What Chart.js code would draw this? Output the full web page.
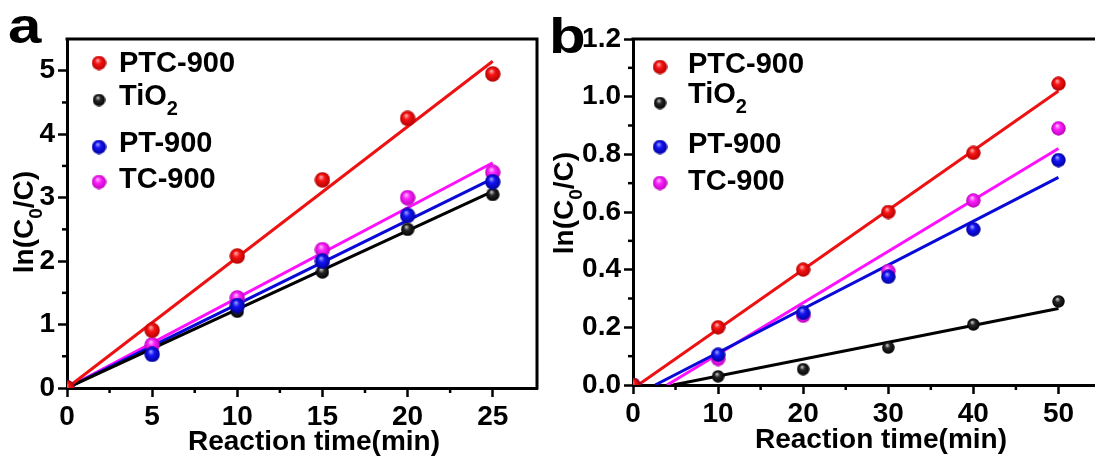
<!DOCTYPE html>
<html>
<head>
<meta charset="utf-8">
<script src="https://cdn.jsdelivr.net/npm/chart.js@4.4.0/dist/chart.umd.min.js"></script>
<style>
  html, body { margin: 0; padding: 0; background: #fff; overflow: hidden; }
  #wrap { position: relative; width: 1095px; height: 459px; overflow: hidden; }
  canvas { position: absolute; top: 0; }
  #chartA { left: 0; }
  #chartB { left: 545px; }
</style>
</head>
<body>
<div id="wrap">
  <canvas id="chartA" width="545" height="459"></canvas>
  <canvas id="chartB" width="600" height="459"></canvas>
</div>
<script>
const FONT = '"Liberation Sans", Arial, Helvetica, sans-serif';

// series names / colours (same for both panels)
const seriesNames = ['PTC-900', 'TiO2', 'PT-900', 'TC-900'];
const lineColors = ['#ee1111', '#000000', '#0a0ad8', '#ff10ff'];

// panel a : x = reaction time (min)
const timeA = [0, 5, 10, 15, 20, 25];
const ptcA  = [0, 0.91, 2.08, 3.28, 4.25, 4.95];
const tio2A = [0, 0.57, 1.21, 1.83, 2.50, 3.05];
const ptA   = [0, 0.53, 1.30, 2.00, 2.72, 3.25];
const tcA   = [0, 0.68, 1.42, 2.18, 3.00, 3.40];
// fitted lines, panel a : [x, y] end points
const ptcFitA  = [[0, 0], [25, 5.15]];
const tio2FitA = [[0, 0], [25, 3.10]];
const ptFitA   = [[0, 0], [25, 3.30]];
const tcFitA   = [[0, 0], [25, 3.55]];
const xTicksA = [0, 5, 10, 15, 20, 25];
const yTicksA = [0, 1, 2, 3, 4, 5];
const xMinorA = [2.5, 7.5, 12.5, 17.5, 22.5];
const yMinorA = [0.5, 1.5, 2.5, 3.5, 4.5];

// panel b
const timeB = [0, 10, 20, 30, 40, 50];
const ptcB  = [0, 0.20, 0.40, 0.60, 0.805, 1.045];
const tio2B = [0, 0.03, 0.055, 0.13, 0.21, 0.29];
const ptB   = [0, 0.105, 0.25, 0.375, 0.54, 0.78];
const tcB   = [0, 0.09, 0.24, 0.395, 0.64, 0.89];
const ptcFitB  = [[0.6, 0], [50, 1.02]];
const tio2FitB = [[4.7, 0], [50, 0.265]];
const ptFitB   = [[2.6, 0], [50, 0.72]];
const tcFitB   = [[4.0, 0], [50, 0.82]];
const xTicksB = [0, 10, 20, 30, 40, 50];
const yTicksB = [0, 0.2, 0.4, 0.6, 0.8, 1.0, 1.2];
const xMinorB = [5, 15, 25, 35, 45];
const yMinorB = [0.1, 0.3, 0.5, 0.7, 0.9, 1.1];

// shaded ball used as marker
function makeBall(light, color, dark, size) {
    const c = document.createElement('canvas');
    c.width = size; c.height = size;
    const g = c.getContext('2d');
    const r = size / 2;
    const grad = g.createRadialGradient(r * 0.8, r * 0.6, 0, r, r, r);
    grad.addColorStop(0, light);
    grad.addColorStop(0.4, color);
    grad.addColorStop(1, dark);
    g.fillStyle = grad;
    g.beginPath();
    g.arc(r, r, r - 0.3, 0, Math.PI * 2);
    g.fill();
    return c;
}

function ballsFor(size) {
    return [
        makeBall('#ffc0c0', '#f81414', '#b00000', size),
        makeBall('#dddddd', '#262626', '#000000', size - 2),
        makeBall('#b0b0ff', '#1414f4', '#00009a', size),
        makeBall('#ffd0ff', '#ff22ff', '#b800b8', size)
    ];
}

const toPoints = (xs, ys) => xs.map((x, i) => ({ x: x, y: ys[i] }));
const fitPoints = pairs => pairs.map(p => ({ x: p[0], y: p[1] }));

// draw text with an optional subscript part: parts = [[text, isSub], ...]
function richWidth(ctx, parts, size, subSize) {
    let w = 0;
    parts.forEach(p => {
        ctx.font = 'bold ' + (p[1] ? subSize : size) + 'px ' + FONT;
        w += ctx.measureText(p[0]).width;
    });
    return w;
}
function drawRich(ctx, parts, x, y, size, subSize, subDrop) {
    ctx.textAlign = 'left';
    ctx.textBaseline = 'alphabetic';
    parts.forEach(p => {
        ctx.font = 'bold ' + (p[1] ? subSize : size) + 'px ' + FONT;
        ctx.fillText(p[0], x, p[1] ? y + subDrop : y);
        x += ctx.measureText(p[0]).width;
    });
}

const legendParts = [
    [['PTC-900', false]],
    [['TiO', false], ['2', true]],
    [['PT-900', false]],
    [['TC-900', false]]
];
const yTitleParts = [['ln(C', false], ['0', true], ['/C)', false]];

function decorPlugin(cfg) {
    return {
        id: 'decor',
        afterDraw(chart) {
            const ctx = chart.ctx;
            const a = chart.chartArea;
            const xs = chart.scales.x, ys = chart.scales.y;
            ctx.save();
            ctx.strokeStyle = '#000';
            ctx.lineWidth = 3;
            // top and right side of the frame
            ctx.beginPath();
            ctx.moveTo(a.left - 1.5, a.top);
            ctx.lineTo(a.right, a.top);
            ctx.lineTo(a.right, a.bottom + 1.5);
            ctx.stroke();

            // minor ticks
            ctx.lineWidth = 2.5;
            cfg.xMinor.forEach(v => {
                const px = xs.getPixelForValue(v);
                ctx.beginPath(); ctx.moveTo(px, a.bottom); ctx.lineTo(px, a.bottom + 5); ctx.stroke();
            });
            cfg.yMinor.forEach(v => {
                const py = ys.getPixelForValue(v);
                ctx.beginPath(); ctx.moveTo(a.left, py); ctx.lineTo(a.left - 5, py); ctx.stroke();
            });

            ctx.fillStyle = '#000';
            // legend
            cfg.legendY.forEach((ly, i) => {
                const img = cfg.legendBalls[i];
                ctx.drawImage(img, cfg.markerX - img.width / 2, cfg.markerY[i] - img.height / 2);
                drawRich(ctx, legendParts[i], cfg.textX, ly, 29, 20, 10);
            });

            // x title
            ctx.font = 'bold 28px ' + FONT;
            ctx.textAlign = 'center';
            ctx.textBaseline = 'alphabetic';
            ctx.fillText('Reaction time(min)', cfg.xTitleX, cfg.xTitleY);

            // y title, rotated
            ctx.save();
            ctx.translate(cfg.yTitleX, cfg.yTitleY);
            ctx.rotate(-Math.PI / 2);
            const w = richWidth(ctx, yTitleParts, 28, 19);
            drawRich(ctx, yTitleParts, -w / 2, 10, 28, 19, 9);
            ctx.restore();

            // panel letter, slightly widened like the original figure
            ctx.save();
            ctx.translate(cfg.letterX, cfg.letterY);
            ctx.scale(1.2, 1);
            ctx.font = 'bold 50px ' + FONT;
            ctx.textAlign = 'left';
            ctx.fillText(cfg.letter, 0, 0);
            ctx.restore();
            ctx.restore();
        }
    };
}

function axis(min, max, tickVals, fmt, fixedSize, horizontal) {
    return {
        type: 'linear',
        min: min,
        max: max,
        afterBuildTicks: s => { s.ticks = tickVals.map(v => ({ value: v })); },
        afterFit: s => { if (horizontal) s.height = fixedSize; else s.width = fixedSize; },
        ticks: {
            color: '#000',
            font: { family: FONT, size: 28, weight: 'bold' },
            padding: 3,
            autoSkip: false,
            maxRotation: 0,
            callback: fmt
        },
        grid: { drawOnChartArea: false, drawTicks: true, tickLength: 9, tickWidth: 2.5, tickColor: '#000' },
        border: { display: true, color: '#000', width: 3 }
    };
}

function buildDatasets(xs, series, fits, balls) {
    const sets = [];
    const pointOrder = [1, 4, 2, 3];
    fits.forEach((f, i) => {
        sets.push({
            label: seriesNames[i] + ' fit',
            data: fitPoints(f),
            showLine: true,
            borderColor: lineColors[i],
            borderWidth: 3,
            pointRadius: 0,
            order: 10 + i
        });
    });
    series.forEach((ys, i) => {
        sets.push({
            label: seriesNames[i],
            data: toPoints(xs, ys),
            showLine: false,
            pointStyle: balls[i],
            pointRadius: 7,
            order: pointOrder[i]
        });
    });
    return sets;
}

function makeChart(id, datasets, xAxis, yAxis, pad, plugin) {
    return new Chart(document.getElementById(id).getContext('2d'), {
        type: 'scatter',
        data: { datasets: datasets },
        options: {
            responsive: false,
            animation: false,
            devicePixelRatio: 1,
            layout: { padding: pad },
            plugins: { legend: { display: false }, tooltip: { enabled: false } },
            scales: { x: xAxis, y: yAxis }
        },
        plugins: [plugin]
    });
}

const intFmt = v => String(v);
const oneDec = v => Number(v).toFixed(1);

// panel a
makeChart('chartA',
    buildDatasets(timeA, [ptcA, tio2A, ptA, tcA], [ptcFitA, tio2FitA, ptFitA, tcFitA], ballsFor(16)),
    axis(0, 27.6, xTicksA, intFmt, 71, true),
    axis(0, 5.5, yTicksA, intFmt, 67, false),
    { left: 0, top: 39, right: 8, bottom: 0 },
    decorPlugin({
        xMinor: xMinorA, yMinor: yMinorA,
        legendBalls: ballsFor(15),
        markerX: 99, markerY: [63, 100, 147, 182],
        textX: 119, legendY: [72, 105, 152, 188],
        xTitleX: 314, xTitleY: 450,
        yTitleX: 23, yTitleY: 222,
        letter: 'a', letterX: 8, letterY: 43
    })
);

// panel b (canvas starts at x = 545)
makeChart('chartB',
    buildDatasets(timeB, [ptcB, tio2B, ptB, tcB], [ptcFitB, tio2FitB, ptFitB, tcFitB], ballsFor(15)),
    axis(0, 55, xTicksB, intFmt, 74, true),
    axis(0, 1.2, yTicksB, oneDec, 88, false),
    { left: 0, top: 39, right: 44, bottom: 0 },
    decorPlugin({
        xMinor: xMinorB, yMinor: yMinorB,
        legendBalls: ballsFor(15),
        markerX: 115, markerY: [67, 103, 147, 183],
        textX: 143, legendY: [73, 103, 153, 190],
        xTitleX: 336, xTitleY: 448,
        yTitleX: 18, yTitleY: 203,
        letter: 'b', letterX: 4, letterY: 53
    })
);
</script>
</body>
</html>
